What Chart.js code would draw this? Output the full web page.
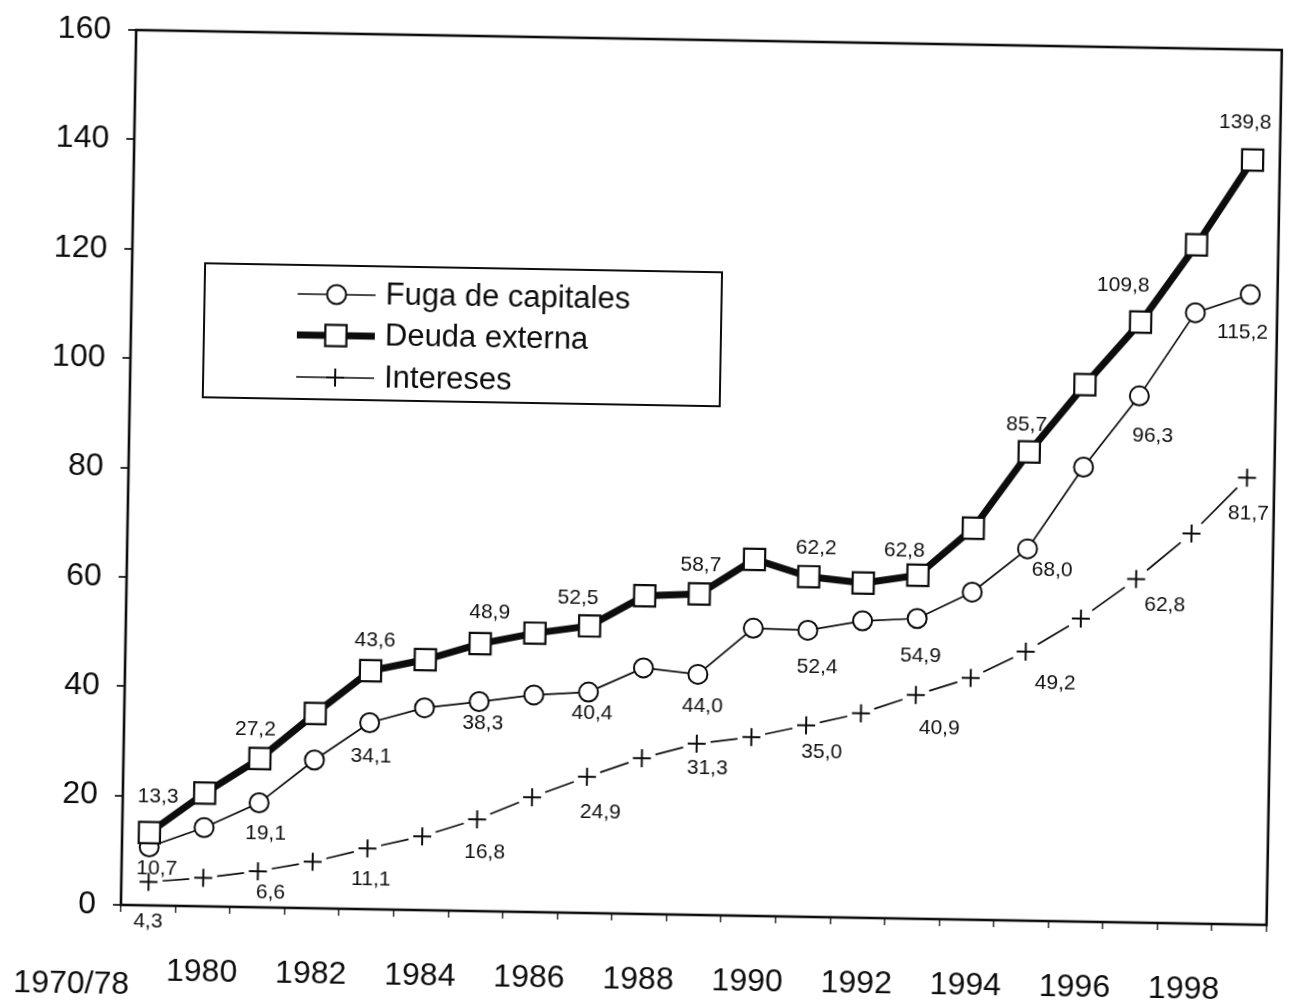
<!DOCTYPE html>
<html>
<head>
<meta charset="utf-8">
<title>Fuga de capitales, deuda externa e intereses</title>
<script src="https://cdn.jsdelivr.net/npm/chart.js@4.4.1/dist/chart.umd.min.js"></script>
<style>
  html, body { margin: 0; padding: 0; background: #fff; overflow: hidden; }
  #wrap { position: relative; width: 1291px; height: 1006px; transform: rotate(1deg); transform-origin: 645.5px 503px; }
  canvas { display: block; }
</style>
</head>
<body>
<div id="wrap"><canvas id="chart" width="1291" height="1006"></canvas></div>
<script>
// Years on the category axis
const years = ['1970/78', '1980', '1981', '1982', '1983', '1984', '1985', '1986', '1987', '1988',
               '1989', '1990', '1991', '1992', '1993', '1994', '1995', '1996', '1997', '1998', '1999'];

// Series values (miles de millones)
const fugaCapitales = [10.7, 14.4, 19.1, 27.1, 34.1, 37.0, 38.3, 39.7, 40.4, 45.0, 44.0,
                       52.6, 52.4, 54.3, 54.9, 59.9, 68.0, 83.1, 96.3, 111.7, 115.2];
const deudaExterna  = [13.3, 20.7, 27.2, 35.6, 43.6, 45.8, 48.9, 51.0, 52.5, 58.2, 58.7,
                       65.2, 62.2, 61.2, 62.8, 71.6, 85.7, 98.2, 109.8, 124.1, 139.8];
const intereses     = [4.3, 5.2, 6.6, 8.5, 11.1, 13.5, 16.8, 21.0, 24.9, 28.5, 31.3,
                       32.7, 35.0, 37.4, 40.9, 44.2, 49.2, 55.4, 62.8, 71.3, 81.7];

// Value axis ticks
const yTickValues = [0, 20, 40, 60, 80, 100, 120, 140, 160];

// Points that carry a printed value
const labelledPoints = [0, 2, 4, 6, 8, 10, 12, 14, 16, 18, 20];

// Label placement relative to each labelled point, [dx, dy] in pixels
const labelOffsets = {
  fuga:  [[8, 22], [7, 31], [2, 34], [4, 22], [4, 21], [5, 32], [10, 37], [4, 37], [25, 21], [14, 40], [-7, 38]],
  deuda: [[8, -36], [-5, -29], [4, -30], [9, -31], [-12, -28], [1, -29], [7, -29], [-14, -24], [-3, -27], [-18, -36], [-8, -37]],
  inter: [[0, 40], [13, 21], [4, 31], [8, 33], [14, 35], [11, 24], [16, 27], [24, 33], [30, 31], [29, 26], [2, 36]]
};

const INK = '#0d0d0d';
const FONT = "'Liberation Sans', Arial, Helvetica, sans-serif";
const fmt = v => v.toFixed(1).replace('.', ',');

// Full frame around the plot area
const framePlugin = {
  id: 'frame',
  beforeDatasetsDraw(chart) {
    const a = chart.chartArea, ctx = chart.ctx;
    ctx.save();
    ctx.strokeStyle = INK;
    ctx.lineWidth = 2.6;
    ctx.strokeRect(a.left, a.top, a.right - a.left, a.bottom - a.top);
    ctx.restore();
  }
};

// Printed values next to every other point
const valueLabelPlugin = {
  id: 'valueLabels',
  afterDatasetsDraw(chart) {
    const ctx = chart.ctx;
    ctx.save();
    ctx.fillStyle = '#111';
    ctx.font = '21px ' + FONT;
    ctx.textAlign = 'center';
    ctx.textBaseline = 'middle';
    chart.data.datasets.forEach((ds, di) => {
      const meta = chart.getDatasetMeta(di);
      const offs = labelOffsets[ds.key];
      labelledPoints.forEach((idx, k) => {
        const el = meta.data[idx];
        ctx.fillText(fmt(ds.data[idx]), el.x + offs[k][0], el.y + offs[k][1]);
      });
    });
    ctx.restore();
  }
};

// Boxed legend inside the plot
const boxLegendPlugin = {
  id: 'boxLegend',
  afterDraw(chart) {
    const ctx = chart.ctx;
    const box = { x: 201, y: 271, w: 517, h: 134 };
    const rows = [300, 341, 383];
    const sx0 = 294, sx1 = 372, tx = 382;
    ctx.save();
    ctx.strokeStyle = INK;
    ctx.lineWidth = 2;
    ctx.strokeRect(box.x, box.y, box.w, box.h);
    chart.data.datasets.forEach((ds, i) => {
      const y = rows[i];
      ctx.save();
      ctx.strokeStyle = INK;
      ctx.lineWidth = ds.legendLineWidth;
      ctx.beginPath();
      ctx.moveTo(sx0, y);
      ctx.lineTo(sx1, y);
      ctx.stroke();
      ctx.fillStyle = '#fff';
      ctx.lineWidth = ds.pointBorderWidth;
      Chart.helpers.drawPoint(ctx, {
        pointStyle: ds.pointStyle, radius: ds.pointRadius, rotation: 0, borderWidth: ds.pointBorderWidth
      }, (sx0 + sx1) / 2, y);
      ctx.restore();
      ctx.fillStyle = INK;
      ctx.font = '31px ' + FONT;
      ctx.textAlign = 'left';
      ctx.textBaseline = 'middle';
      ctx.fillText(ds.label, tx, y);
    });
    ctx.restore();
  }
};

// Line broken just before and after each cross
const gappedDash = ctx => {
  const len = Math.hypot(ctx.p1.x - ctx.p0.x, ctx.p1.y - ctx.p0.y);
  const gap = 14;
  return [0, gap, Math.max(len - 2 * gap, 0), gap];
};

new Chart(document.getElementById('chart'), {
  type: 'line',
  data: {
    labels: years,
    datasets: [
      {
        key: 'fuga', label: 'Fuga de capitales', data: fugaCapitales,
        borderColor: INK, borderWidth: 1.7, legendLineWidth: 1.7, tension: 0,
        pointStyle: 'circle', pointRadius: 9.5, pointHoverRadius: 9.5,
        pointBorderWidth: 2, pointBorderColor: INK, pointBackgroundColor: '#fff', order: 1
      },
      {
        key: 'deuda', label: 'Deuda externa', data: deudaExterna,
        borderColor: INK, borderWidth: 7, legendLineWidth: 7, tension: 0,
        pointStyle: 'rect', pointRadius: 15, pointHoverRadius: 15,
        pointBorderWidth: 2.2, pointBorderColor: INK, pointBackgroundColor: '#fff', order: 0
      },
      {
        key: 'inter', label: 'Intereses', data: intereses,
        borderColor: INK, borderWidth: 1.7, legendLineWidth: 1.7, tension: 0,
        pointStyle: 'cross', pointRadius: 9, pointHoverRadius: 9,
        pointBorderWidth: 2, pointBorderColor: INK, pointBackgroundColor: '#fff', order: 2,
        segment: { borderDash: gappedDash }
      }
    ]
  },
  options: {
    responsive: false,
    animation: false,
    events: [],
    layout: { padding: { left: 0, top: 39, right: 10, bottom: 0 } },
    plugins: { legend: { display: false }, tooltip: { enabled: false } },
    scales: {
      x: {
        offset: true,
        border: { display: false },
        grid: { offset: true, drawOnChartArea: false, drawTicks: true, tickLength: 7, color: '#333', lineWidth: 1.5 },
        ticks: {
          autoSkip: false, maxRotation: 0, minRotation: 0, padding: 40, color: INK,
          // the first (grouped) period sits a little lower than the yearly labels
          font: ctx => ({ family: FONT, size: 32, lineHeight: ctx.index === 0 ? 2.1 : 1.2 }),
          callback: function (value, index) {
            const lab = this.getLabelForValue(value);
            if (index === 0) return lab + ' '.repeat(17);
            return index % 2 === 1 ? lab : '';
          }
        },
        afterFit(scale) { scale.height = 92; scale.paddingLeft = 0; scale.paddingRight = 0; }
      },
      y: {
        min: 0, max: 160,
        border: { display: false },
        grid: { drawOnChartArea: false, drawTicks: true, tickLength: 8, color: '#333', lineWidth: 2 },
        afterBuildTicks(scale) { scale.ticks = yTickValues.map(v => ({ value: v })); },
        ticks: { padding: 17, color: INK, font: { family: FONT, size: 32 } },
        afterFit(scale) { scale.width = 128; }
      }
    }
  },
  plugins: [framePlugin, valueLabelPlugin, boxLegendPlugin]
});
</script>
</body>
</html>
